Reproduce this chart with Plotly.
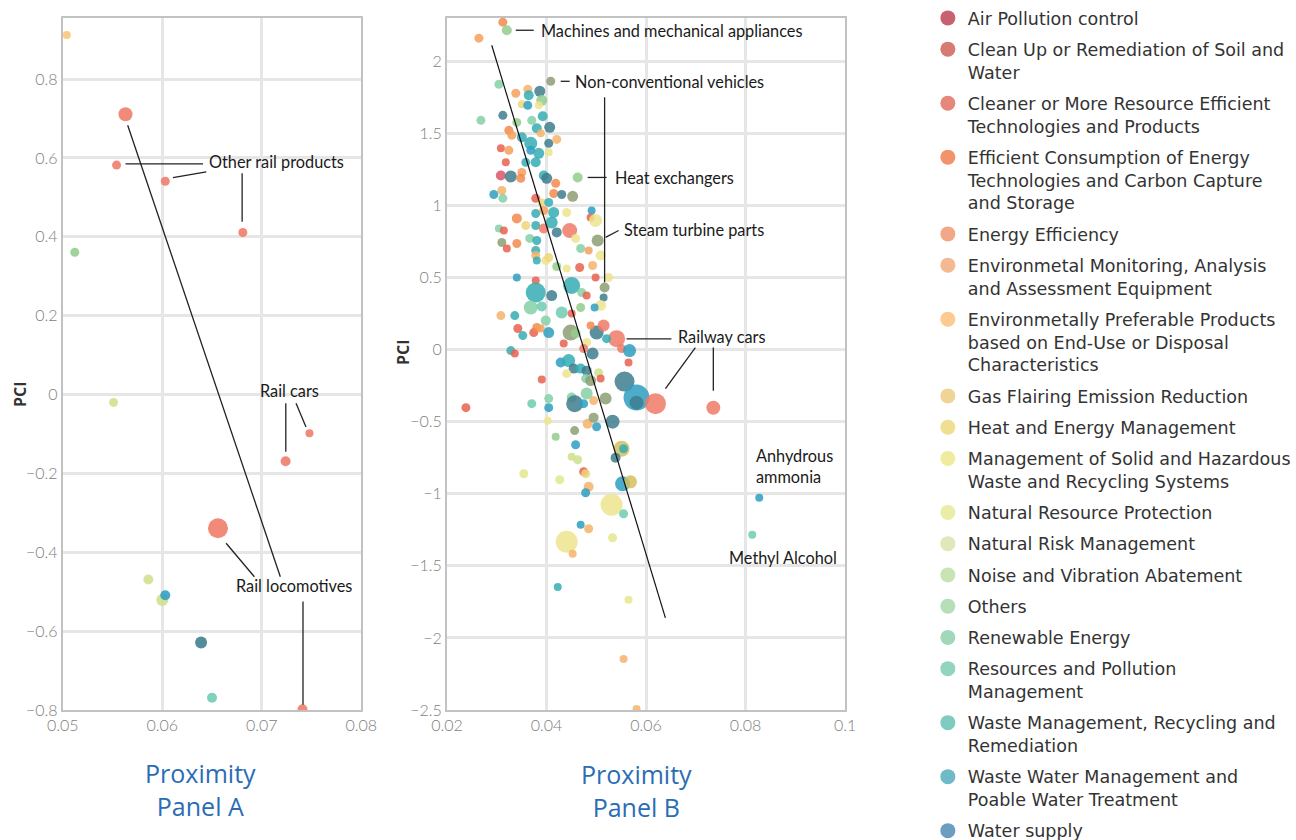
import plotly.graph_objects as go

# ---------------- categories / legend ----------------
categories = [
    "Air Pollution control",
    "Clean Up or Remediation of Soil and<br>Water",
    "Cleaner or More Resource Efficient<br>Technologies and Products",
    "Efficient Consumption of Energy<br>Technologies and Carbon Capture<br>and Storage",
    "Energy Efficiency",
    "Environmetal Monitoring, Analysis<br>and Assessment Equipment",
    "Environmetally Preferable Products<br>based on End-Use or Disposal<br>Characteristics",
    "Gas Flairing Emission Reduction",
    "Heat and Energy Management",
    "Management of Solid and Hazardous<br>Waste and Recycling Systems",
    "Natural Resource Protection",
    "Natural Risk Management",
    "Noise and Vibration Abatement",
    "Others",
    "Renewable Energy",
    "Resources and Pollution<br>Management",
    "Waste Management, Recycling and<br>Remediation",
    "Waste Water Management and<br>Poable Water Treatment",
    "Water supply",
]
legend_colors = ["#c8616f", "#d67a74", "#e7877c", "#f3936b", "#f2a786", "#f4b991",
                 "#fdca91", "#eed596", "#f0df90", "#efeb9f", "#ebeca7", "#dfe8b8",
                 "#c8e3b4", "#b6dfb9", "#a0d8b9", "#92d4c0", "#7fcbc0", "#70bac7", "#6b9ec1"]
marker_colors = ["#d95567", "#e8604f", "#f07a66", "#f28a4e", "#f5a05c", "#f6b36c",
                 "#f7c676", "#d6bf5e", "#efd67a", "#efe48e", "#e4e68c", "#cfe08c",
                 "#8d9f72", "#93cd8c", "#86d0a6", "#6dcbb2", "#35adb3", "#2f9dc2", "#3e7c8e"]

# ---------------- Panel A data ----------------
a_prox = [0.0504, 0.0563, 0.0554, 0.0603, 0.0681, 0.0512, 0.0551, 0.0748, 0.0724,
          0.0656, 0.0586, 0.0600, 0.0603, 0.0639, 0.0650, 0.0741]
a_pci = [0.912, 0.711, 0.582, 0.541, 0.411, 0.361, -0.020, -0.098, -0.169,
         -0.339, -0.469, -0.521, -0.509, -0.629, -0.769, -0.798]
a_size = [8, 14, 9, 9, 9, 9, 9, 8, 10, 20, 10, 12, 10, 12, 10, 10]
a_cat = [6, 2, 2, 2, 2, 13, 11, 2, 2, 2, 11, 11, 17, 18, 15, 2]

# ---------------- Panel B data ----------------
b_prox = [0.03123, 0.03203, 0.02642, 0.04085, 0.03043, 0.03383, 0.03624, 0.03644, 0.03865, 0.03905,
          0.03504, 0.03624, 0.03845, 0.02682, 0.03123, 0.03404, 0.03704, 0.03925, 0.03805, 0.04065,
          0.03243, 0.03303, 0.03504, 0.03684, 0.03885, 0.04045, 0.04206, 0.03083, 0.03243, 0.03684,
          0.03845, 0.04045, 0.03183, 0.03584, 0.03784, 0.03083, 0.03283, 0.03504, 0.03484, 0.03945,
          0.04005, 0.04185, 0.04627, 0.02942, 0.03103, 0.03123, 0.04145, 0.04306, 0.04526, 0.03784,
          0.03905, 0.04045, 0.04907, 0.04887, 0.04987, 0.04406, 0.04145, 0.03784, 0.03945, 0.03404,
          0.03584, 0.03784, 0.03945, 0.04105, 0.04466, 0.04206, 0.03043, 0.03143, 0.05028, 0.04586,
          0.03664, 0.03805, 0.03103, 0.03404, 0.03203, 0.04687, 0.04847, 0.05088, 0.03784, 0.03784,
          0.03985, 0.04045, 0.03805, 0.04206, 0.04406, 0.04667, 0.04927, 0.04987, 0.05248, 0.03404,
          0.03784, 0.05168, 0.03784, 0.04506, 0.04105, 0.04707, 0.04807, 0.05148, 0.05088, 0.04967,
          0.03684, 0.03905, 0.04306, 0.04506, 0.04687, 0.03083, 0.03363, 0.03424, 0.03524, 0.03744,
          0.03805, 0.03885, 0.04045, 0.03985, 0.04486, 0.04586, 0.05008, 0.05148, 0.05409, 0.04807,
          0.04887, 0.05208, 0.05509, 0.05669, 0.04747, 0.04346, 0.03283, 0.03363, 0.04927, 0.05649,
          0.04286, 0.04446, 0.04546, 0.04406, 0.04687, 0.04807, 0.05048, 0.04787, 0.04887, 0.05088,
          0.03905, 0.05569, 0.05810, 0.05810, 0.06190, 0.07353, 0.04506, 0.04566, 0.04747, 0.04947,
          0.05188, 0.04807, 0.04045, 0.03704, 0.04045, 0.02381, 0.05328, 0.04025, 0.04827, 0.05008,
          0.04947, 0.04566, 0.04185, 0.04586, 0.05509, 0.05549, 0.05388, 0.04506, 0.04627, 0.04747,
          0.04787, 0.03544, 0.04266, 0.04847, 0.04787, 0.05529, 0.05689, 0.05308, 0.05549, 0.04687,
          0.04847, 0.04406, 0.04526, 0.05328, 0.04226, 0.05649, 0.05549, 0.05810, 0.08276, 0.08135]
b_pci = [2.271, 2.215, 2.160, 1.861, 1.840, 1.778, 1.806, 1.764, 1.792, 1.729,
         1.701, 1.694, 1.694, 1.590, 1.625, 1.576, 1.590, 1.618, 1.535, 1.542,
         1.521, 1.486, 1.472, 1.431, 1.500, 1.431, 1.458, 1.396, 1.382, 1.382,
         1.361, 1.368, 1.299, 1.299, 1.299, 1.208, 1.201, 1.229, 1.188, 1.208,
         1.188, 1.153, 1.194, 1.076, 1.104, 1.049, 1.083, 1.076, 1.063, 1.049,
         1.021, 1.021, 0.965, 0.917, 0.896, 0.951, 0.951, 0.944, 0.965, 0.910,
         0.861, 0.861, 0.840, 0.882, 0.826, 0.813, 0.840, 0.826, 0.757, 0.771,
         0.771, 0.757, 0.743, 0.736, 0.701, 0.701, 0.688, 0.653, 0.688, 0.653,
         0.618, 0.639, 0.618, 0.576, 0.563, 0.569, 0.583, 0.500, 0.500, 0.500,
         0.479, 0.431, 0.396, 0.444, 0.375, 0.396, 0.375, 0.361, 0.306, 0.292,
         0.292, 0.299, 0.257, 0.250, 0.292, 0.236, 0.236, 0.146, 0.097, 0.118,
         0.153, 0.146, 0.118, 0.201, 0.118, 0.111, 0.118, 0.167, 0.076, 0.049,
         0.167, 0.076, 0.007, -0.007, 0.007, 0.042, -0.007, -0.028, -0.028, -0.090,
         -0.090, -0.076, -0.132, -0.167, -0.132, -0.146, -0.160, -0.201, -0.215, -0.201,
         -0.208, -0.222, -0.333, -0.368, -0.375, -0.403, -0.333, -0.375, -0.375, -0.354,
         -0.340, -0.305, -0.340, -0.375, -0.403, -0.403, -0.500, -0.493, -0.514, -0.535,
         -0.472, -0.562, -0.604, -0.660, -0.688, -0.688, -0.750, -0.743, -0.764, -0.847,
         -0.861, -0.861, -0.903, -0.951, -0.993, -0.931, -0.917, -1.076, -1.139, -1.215,
         -1.243, -1.333, -1.417, -1.305, -1.646, -1.736, -2.146, -2.493, -1.028, -1.285]
b_size = [9, 10, 9, 9, 9, 9, 9, 10, 11, 11, 8, 9, 8, 9, 9, 9, 9, 10, 10, 11,
          9, 9, 10, 13, 8, 9, 9, 8, 9, 9, 11, 8, 8, 9, 10, 10, 12, 9, 9, 10,
          11, 9, 10, 9, 9, 9, 9, 9, 11, 9, 8, 9, 8, 8, 13, 9, 11, 9, 9, 10,
          9, 9, 10, 12, 15, 10, 8, 8, 12, 9, 9, 9, 9, 9, 8, 9, 8, 10, 9, 9,
          9, 9, 8, 9, 8, 9, 9, 8, 9, 8, 8, 10, 20, 17, 11, 9, 8, 8, 11, 8,
          14, 10, 12, 8, 9, 9, 9, 9, 9, 9, 9, 8, 11, 10, 16, 10, 14, 12, 17, 9,
          8, 9, 9, 13, 9, 8, 9, 8, 12, 8, 10, 13, 10, 9, 10, 10, 9, 9, 11, 8,
          8, 20, 26, 14, 21, 14, 10, 17, 9, 9, 12, 12, 9, 9, 9, 9, 14, 8, 10, 9,
          10, 9, 8, 9, 16, 9, 10, 8, 9, 9, 9, 9, 9, 10, 9, 15, 13, 22, 9, 8,
          9, 22, 8, 9, 8, 8, 8, 8, 8, 8]
b_cat = [3, 13, 4, 12, 14, 4, 5, 16, 18, 13, 8, 17, 9, 14, 18, 13, 14, 16, 16, 18,
         3, 4, 16, 16, 5, 18, 5, 1, 4, 17, 16, 9, 1, 16, 16, 0, 18, 4, 3, 16,
         18, 3, 13, 17, 5, 14, 3, 18, 12, 1, 8, 16, 17, 1, 9, 9, 16, 16, 4, 3,
         8, 16, 2, 16, 2, 18, 14, 1, 12, 9, 14, 16, 12, 3, 1, 14, 4, 9, 16, 5,
         9, 8, 16, 13, 9, 1, 5, 1, 9, 17, 1, 12, 16, 16, 18, 14, 1, 18, 9, 17,
         14, 15, 15, 1, 13, 5, 16, 1, 16, 1, 3, 4, 17, 14, 12, 13, 18, 2, 2, 9,
         3, 16, 2, 17, 2, 1, 16, 1, 18, 1, 17, 16, 18, 9, 16, 18, 11, 14, 12, 1,
         1, 18, 17, 18, 2, 2, 14, 18, 17, 5, 12, 14, 14, 15, 17, 1, 18, 9, 5, 17,
         12, 12, 13, 17, 7, 16, 18, 11, 11, 1, 8, 10, 10, 5, 17, 17, 7, 9, 15, 17,
         5, 9, 5, 10, 16, 10, 5, 5, 17, 15]

# fitted line endpoints (Panel B)
trend_prox = [0.0290, 0.0639]
trend_pci = [2.111, -1.861]

a_xticks = [0.05, 0.06, 0.07, 0.08]
a_yticks = [-0.8, -0.6, -0.4, -0.2, 0, 0.2, 0.4, 0.6, 0.8]
b_xticks = [0.02, 0.04, 0.06, 0.08, 0.1]
b_yticks = [-2.5, -2, -1.5, -1, -0.5, 0, 0.5, 1, 1.5, 2]

# ---------------- labels & leader lines ----------------
labels_a = [
    ("Other rail products", 0.0645, 0.590, "left"),
    ("Rail cars", 0.07278, 0.0115, "center"),
    ("Rail locomotives", 0.07323, -0.4855, "center"),
]
leaders_a = [
    (0.0563, 0.585, 0.0641, 0.585),
    (0.06107, 0.550, 0.06442, 0.565),
    (0.06803, 0.561, 0.06803, 0.438),
    (0.07242, -0.022, 0.07242, -0.145),
    (0.07345, -0.022, 0.07445, -0.082),
    (0.05652, 0.683, 0.07187, -0.462),
    (0.06642, -0.377, 0.06926, -0.462),
    (0.07415, -0.525, 0.07415, -0.787),
]
labels_b = [
    ("Machines and mechanical appliances", 0.03845, 2.215, "left"),
    ("Non-conventional vehicles", 0.04526, 1.861, "left"),
    ("Heat exchangers", 0.05328, 1.194, "left"),
    ("Steam turbine parts", 0.05509, 0.833, "left"),
    ("Railway cars", 0.06611, 0.090, "left"),
    ("Anhydrous<br>ammonia", 0.08175, -0.806, "left"),
    ("Methyl Alcohol", 0.07634, -1.444, "left"),
]
leaders_b = [
    (0.03383, 2.215, 0.03744, 2.215),
    (0.04286, 1.861, 0.04466, 1.861),
    (0.05168, 1.750, 0.05168, 0.467),
    (0.04827, 1.194, 0.05208, 1.194),
    (0.05449, 0.826, 0.05188, 0.778),
    (0.05609, 0.074, 0.06511, 0.074),
    (0.06992, 0.014, 0.06391, -0.271),
    (0.07353, 0.014, 0.07353, -0.285),
]

# ---------------- page geometry ----------------
W, H = 1296, 840


def fx(px):
    return px / W


def fy(py):
    return 1 - py / H


# ---------------- figure ----------------
fig = go.Figure()

fig.add_trace(go.Scatter(
    x=a_prox, y=a_pci, mode="markers", xaxis="x", yaxis="y", showlegend=False,
    marker=dict(size=a_size, color=[marker_colors[c] for c in a_cat], opacity=0.88,
                line=dict(width=0)),
    hoverinfo="skip"))

fig.add_trace(go.Scatter(
    x=b_prox, y=b_pci, mode="markers", xaxis="x2", yaxis="y2", showlegend=False,
    marker=dict(size=b_size, color=[marker_colors[c] for c in b_cat], opacity=0.85,
                line=dict(width=0)),
    hoverinfo="skip"))

fig.add_trace(go.Scatter(
    x=trend_prox, y=trend_pci, mode="lines", xaxis="x2", yaxis="y2", showlegend=False,
    line=dict(color="#111111", width=1.2), hoverinfo="skip"))

for i, (name, col) in enumerate(zip(categories, legend_colors)):
    fig.add_trace(go.Scatter(
        x=[None], y=[None], mode="markers", name=name, legendgroup=f"g{i}",
        marker=dict(size=15, color=col), showlegend=True))

shapes = []
for (x0, y0, x1, y1) in leaders_a:
    shapes.append(dict(type="line", xref="x", yref="y", x0=x0, y0=y0, x1=x1, y1=y1,
                       line=dict(color="#222222", width=1.3)))
for (x0, y0, x1, y1) in leaders_b:
    shapes.append(dict(type="line", xref="x2", yref="y2", x0=x0, y0=y0, x1=x1, y1=y1,
                       line=dict(color="#222222", width=1.3)))

label_font = dict(family="Lato", size=16.3, color="#1a1a1a")
annotations = []
for (t, x, y, anc) in labels_a:
    annotations.append(dict(text=t, x=x, y=y, xref="x", yref="y", showarrow=False,
                            xanchor=anc, yanchor="middle", font=label_font, align="left"))
for (t, x, y, anc) in labels_b:
    annotations.append(dict(text=t, x=x, y=y, xref="x2", yref="y2", showarrow=False,
                            xanchor=anc, yanchor="middle", font=label_font, align="left"))

pci_font = dict(family="Open Sans", size=16, color="#333333")
prox_font = dict(family="Open Sans", size=25, color="#2a6db5")
annotations += [
    dict(text="<b>PCI</b>", x=fx(20), y=fy(394), xref="paper", yref="paper",
         xanchor="center", yanchor="middle", showarrow=False, textangle=-90, font=pci_font),
    dict(text="<b>PCI</b>", x=fx(404), y=fy(352), xref="paper", yref="paper",
         xanchor="center", yanchor="middle", showarrow=False, textangle=-90, font=pci_font),
    dict(text="Proximity<br>Panel A", x=fx(201), y=fy(789), xref="paper", yref="paper",
         xanchor="center", yanchor="middle", showarrow=False, font=prox_font),
    dict(text="Proximity<br>Panel B", x=fx(638), y=fy(790), xref="paper", yref="paper",
         xanchor="center", yanchor="middle", showarrow=False, font=prox_font),
]

axis_common = dict(showgrid=True, gridcolor="#e6e6e6", gridwidth=3, zeroline=False,
                   showline=True, linecolor="#c2c2c2", linewidth=2, mirror=True,
                   ticks="", tickfont=dict(family="Lato", size=16, color="#7d7d7d", weight=300))

ydom = [fy(710), fy(18)]
fig.update_layout(
    width=W, height=H, margin=dict(l=0, r=0, t=0, b=0),
    paper_bgcolor="white", plot_bgcolor="white", template="none",
    xaxis=dict(domain=[fx(63), fx(362)], range=[0.05, 0.08], tickvals=a_xticks, anchor="y",
               **axis_common),
    yaxis=dict(domain=ydom, range=[-0.8, 0.955], tickvals=a_yticks, anchor="x", **axis_common),
    xaxis2=dict(domain=[fx(448), fx(847)], range=[0.02, 0.1], tickvals=b_xticks, anchor="y2",
                **axis_common),
    yaxis2=dict(domain=ydom, range=[-2.5, 2.3], tickvals=b_yticks, anchor="x2", **axis_common),
    shapes=shapes, annotations=annotations,
    legend=dict(x=fx(930), xanchor="left", y=1.0, yanchor="top", yref="paper",
                font=dict(family="DejaVu Sans", size=17.5, color="#333333"),
                traceorder="grouped", tracegroupgap=5.5, valign="top", itemsizing="trace",
                bgcolor="rgba(0,0,0,0)", borderwidth=0, maxheight=1200),
    showlegend=True,
)

# remove the default 8px page margin so the figure fills the window exactly
fig.write_html("out.html", config={"displayModeBar": False},
               post_script="document.body.style.margin='0';")
